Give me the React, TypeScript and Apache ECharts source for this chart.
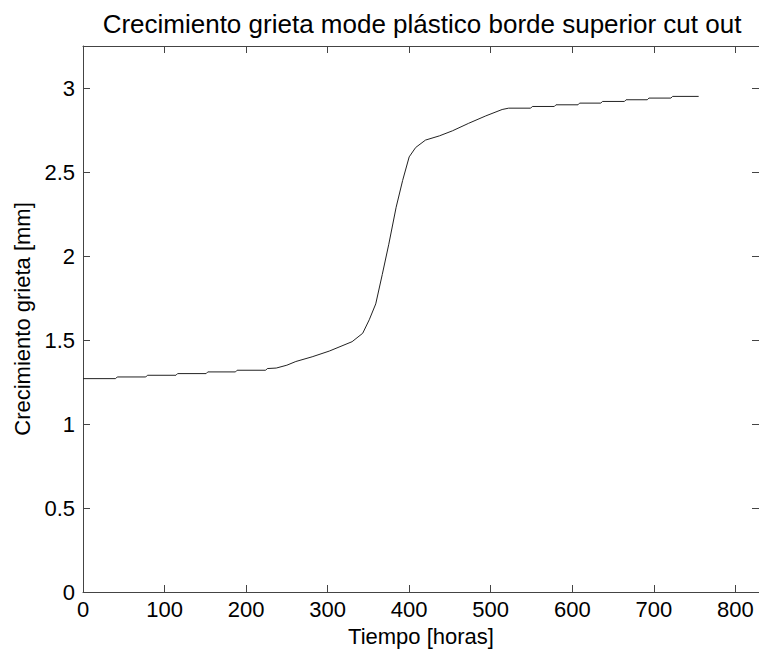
import React, { useEffect, useRef } from "react";
import * as echarts from "echarts";

const titleText = "Crecimiento grieta mode plástico borde superior cut out";
const xAxisName = "Tiempo [horas]";
const yAxisName = "Crecimiento grieta [mm]";

// hours
const timeHours = [
  0, 40, 42, 77, 79, 114, 116, 151, 153, 187, 189, 224, 226, 237,
  250, 261, 281, 302, 330, 343, 351, 359, 367, 375, 384, 392, 400, 408,
  420, 437, 453, 473, 494, 514, 522,
  549, 551, 578, 580, 607, 609, 635, 637, 664, 666, 692, 694, 721, 723, 755,
];
// crack growth (mm)
const crackMm = [
  1.27, 1.27, 1.28, 1.28, 1.29, 1.29, 1.3, 1.3, 1.31, 1.31, 1.32, 1.32, 1.33, 1.333,
  1.35, 1.372, 1.4, 1.434, 1.49, 1.54, 1.62, 1.715, 1.89, 2.07, 2.29, 2.45, 2.59, 2.646,
  2.69, 2.715, 2.745, 2.79, 2.834, 2.872, 2.88,
  2.88, 2.89, 2.89, 2.9, 2.9, 2.91, 2.91, 2.92, 2.92, 2.93, 2.93, 2.94, 2.94, 2.95, 2.95,
];

const xTicks = [0, 100, 200, 300, 400, 500, 600, 700, 800];
const yTicks = [0, 0.5, 1, 1.5, 2, 2.5, 3];

const FONT = "'Liberation Sans', Arial, Helvetica, sans-serif";
const AXIS_COLOR = "#444";

export default function App() {
  const ref = useRef<HTMLDivElement>(null);
  useEffect(() => {
    if (!ref.current) return;
    const chart = echarts.init(ref.current, null, { renderer: "svg" });
    const data = timeHours.map((t, i) => [t, crackMm[i]]);
    const common = {
      axisLine: { show: true, onZero: false, lineStyle: { color: AXIS_COLOR, width: 1 } },
      axisTick: { show: true, inside: true, length: 7, lineStyle: { color: AXIS_COLOR } },
      splitLine: { show: false },
    };
    const xFmt = (v: number) => (xTicks.includes(v) ? String(v) : "");
    const yFmt = (v: number) => (yTicks.includes(v) ? String(v) : "");
    chart.setOption({
      animation: false,
      backgroundColor: "#fff",
      title: {
        text: titleText,
        left: 417,
        top: 6,
        textAlign: "center",
        textStyle: { fontFamily: FONT, fontSize: 26, fontWeight: "normal", color: "#000" },
      },
      grid: { left: 83, top: 46, width: 678, height: 546 },
      xAxis: [
        {
          type: "value", min: 0, max: 829, interval: 100, position: "bottom",
          ...common,
          axisLabel: { formatter: xFmt, showMaxLabel: false, fontFamily: FONT, fontSize: 22, color: "#000", margin: 6 },
          name: xAxisName, nameLocation: "middle", nameGap: 33,
          nameTextStyle: { fontFamily: FONT, fontSize: 22, color: "#000" },
        },
        {
          type: "value", min: 0, max: 829, interval: 100, position: "top",
          ...common,
          axisLabel: { show: false },
        },
      ],
      yAxis: [
        {
          type: "value", min: 0, max: 3.25, interval: 0.5, position: "left",
          ...common,
          axisLabel: { formatter: yFmt, showMaxLabel: false, fontFamily: FONT, fontSize: 22, color: "#000", margin: 8 },
          name: yAxisName, nameLocation: "middle", nameGap: 50,
          nameTextStyle: { fontFamily: FONT, fontSize: 22, color: "#000" },
        },
        {
          type: "value", min: 0, max: 3.25, interval: 0.5, position: "right",
          ...common,
          axisLabel: { show: false },
        },
      ],
      series: [
        {
          type: "line",
          data,
          showSymbol: false,
          smooth: false,
          lineStyle: { color: "#222", width: 1 },
          xAxisIndex: 0,
          yAxisIndex: 0,
        },
      ],
    });
    return () => chart.dispose();
  }, []);
  return (
    <div
      ref={ref}
      style={{ position: "fixed", left: 0, top: 0, width: 759, height: 653 }}
    />
  );
}
